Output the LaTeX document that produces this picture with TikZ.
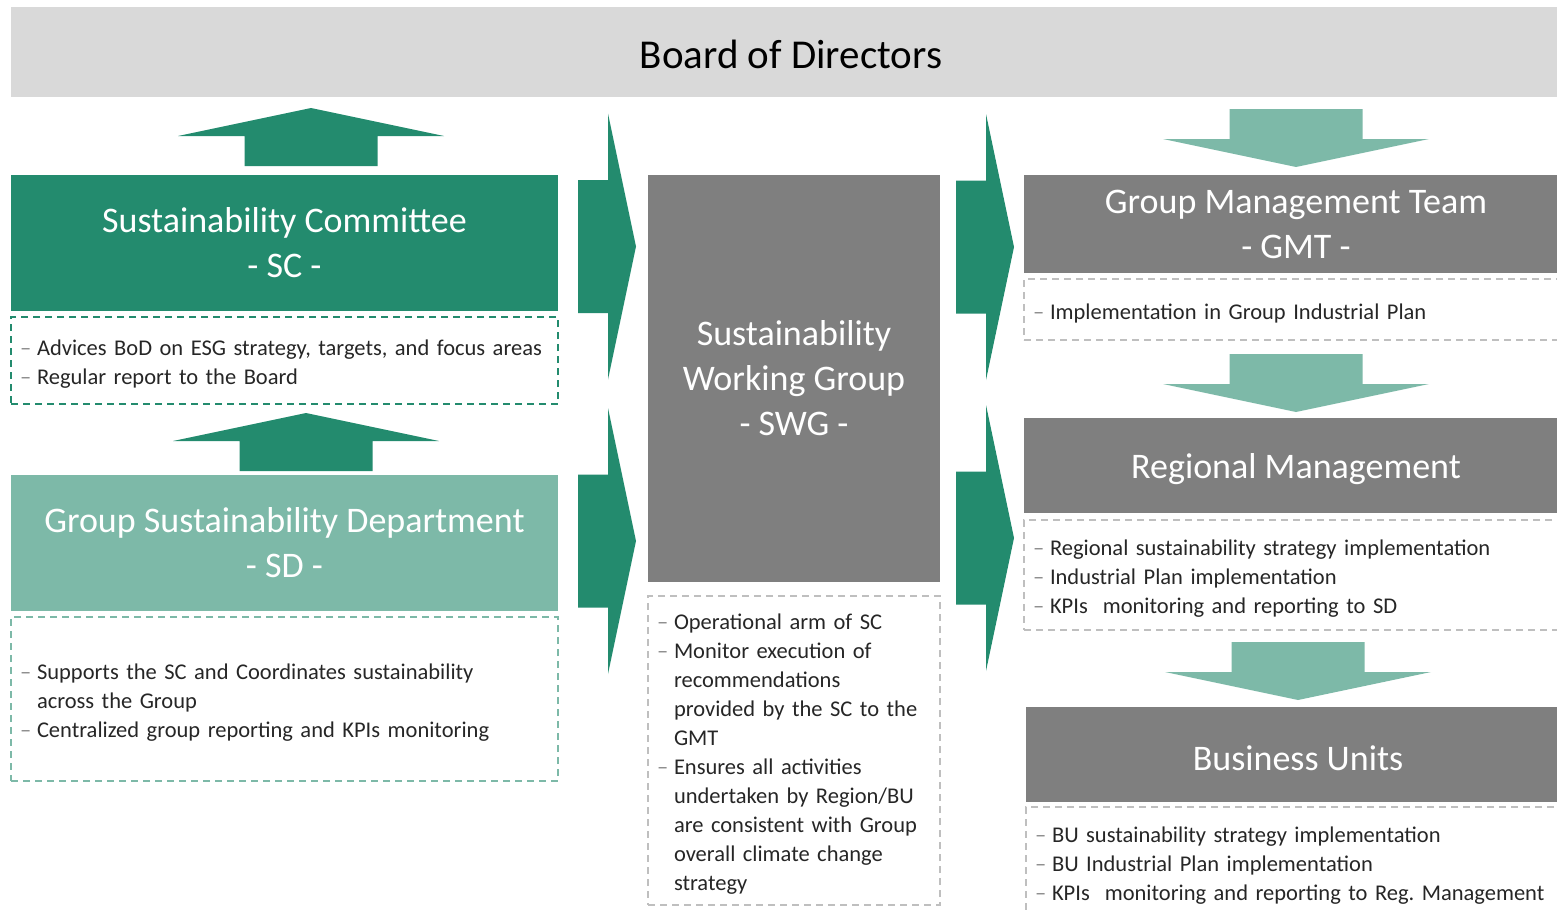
\documentclass[tikz,border=0pt]{standalone}
\usepackage{fontspec}
\setmainfont{Carlito}
\usepackage{xcolor}
\usetikzlibrary{positioning}
\frenchspacing

\definecolor{scgreen}{RGB}{35,139,110}
\definecolor{sdgreen}{RGB}{125,185,168}
\definecolor{boxgray}{RGB}{127,127,127}
\definecolor{bodgray}{RGB}{217,217,217}
\definecolor{notegray}{RGB}{191,191,191}

% bullet dash and hanging indent for the note lists
\newcommand{\itm}{\makebox[17pt][l]{\textcolor{black!45}{--}}}
\newcommand{\ind}{\hspace*{17pt}}

\begin{document}
\begin{tikzpicture}[x=1pt, y=-1pt, outer sep=0pt,
  head/.style={fill=#1, text=white, align=center, anchor=north west, inner sep=0pt,
    font=\fontsize{36}{45}\selectfont, execute at begin node={\rule{0pt}{33pt}}},
  note/.style={draw=#1, dashed, dash pattern=on 7pt off 5pt, line width=1.4pt,
    align=left, inner xsep=9pt, inner ysep=0pt, text=black!85,
    font=\fontsize{22.5}{29}\selectfont, execute at begin node={\rule{0pt}{23pt}}},
  blockarrow/.pic={\fill[#1] (0,-66.5) -- (30,-66.5) -- (30,-133) -- (58,0)
    -- (30,133) -- (30,66.5) -- (0,66.5) -- cycle;}]
\clip (0,0) rectangle (1557,913);

\node[head=bodgray, text=black, minimum width=1560pt, minimum height=90pt,
  font=\fontsize{41}{48}\selectfont] (bod) at (11,7) {Board of Directors};

% left column
\node[head=scgreen, minimum width=547pt, minimum height=136pt] (sc) at (11,175)
  {Sustainability Committee\\- SC -};
\node[note=scgreen, below=6pt of sc, minimum width=547pt, minimum height=87pt,
  text width=529pt] (scnote)
  {\itm Advices BoD on ESG strategy, targets, and focus areas\\
   \itm Regular report to the Board};
\node[head=sdgreen, minimum width=547pt, minimum height=136pt] (sd) at (11,475)
  {Group Sustainability Department\\- SD -};
\node[note=sdgreen, below=6pt of sd, minimum width=547pt, minimum height=164pt,
  text width=529pt] (sdnote)
  {\itm Supports the SC and Coordinates sustainability\\
   \ind across the Group\\
   \itm Centralized group reporting and KPIs monitoring};

% middle column
\node[head=boxgray, minimum width=292pt, minimum height=407pt] (swg) at (648,175)
  {Sustainability\\Working Group\\- SWG -};
\node[note=notegray, below=14pt of swg, minimum width=292pt, minimum height=309pt,
  text width=274pt] (swgnote)
  {\itm Operational arm of SC\\
   \itm Monitor execution of\\
   \ind recommendations\\
   \ind provided by the SC to the\\
   \ind GMT\\
   \itm Ensures all activities\\
   \ind undertaken by Region/BU\\
   \ind are consistent with Group\\
   \ind overall climate change\\
   \ind strategy};

% right column
\node[head=boxgray, minimum width=544pt, minimum height=98pt] (gmt) at (1024,175)
  {Group Management Team\\- GMT -};
\node[note=notegray, below=6pt of gmt.south west, anchor=north west,
  minimum width=545pt, minimum height=61pt, text width=527pt] (gmtnote)
  {\itm Implementation in Group Industrial Plan};
\node[head=boxgray, minimum width=544pt, minimum height=95pt] (rm) at (1024,418)
  {Regional Management};
\node[note=notegray, below=7pt of rm.south west, anchor=north west,
  minimum width=545pt, minimum height=110pt, text width=527pt] (rmnote)
  {\itm Regional sustainability strategy implementation\\
   \itm Industrial Plan implementation\\
   \itm KPIs~ monitoring and reporting to SD};
\node[head=boxgray, minimum width=544pt, minimum height=95pt] (bu) at (1026,707)
  {Business Units};
\node[note=notegray, below=5pt of bu.south west, anchor=north west,
  minimum width=545pt, minimum height=110pt, text width=527pt] (bunote)
  {\itm BU sustainability strategy implementation\\
   \itm BU Industrial Plan implementation\\
   \itm KPIs~ monitoring and reporting to Reg. Management};

% block arrows
\pic[rotate=90] at (311,166) {blockarrow=scgreen};
\pic[rotate=90] at (306,471) {blockarrow=scgreen};
\pic at (578,246.5) {blockarrow=scgreen};
\pic at (578,541) {blockarrow=scgreen};
\pic at (956,247) {blockarrow=scgreen};
\pic at (956,538) {blockarrow=scgreen};
\pic[rotate=-90] at (1296,109) {blockarrow=sdgreen};
\pic[rotate=-90] at (1296,354) {blockarrow=sdgreen};
\pic[rotate=-90] at (1298,642) {blockarrow=sdgreen};
\end{tikzpicture}
\end{document}
